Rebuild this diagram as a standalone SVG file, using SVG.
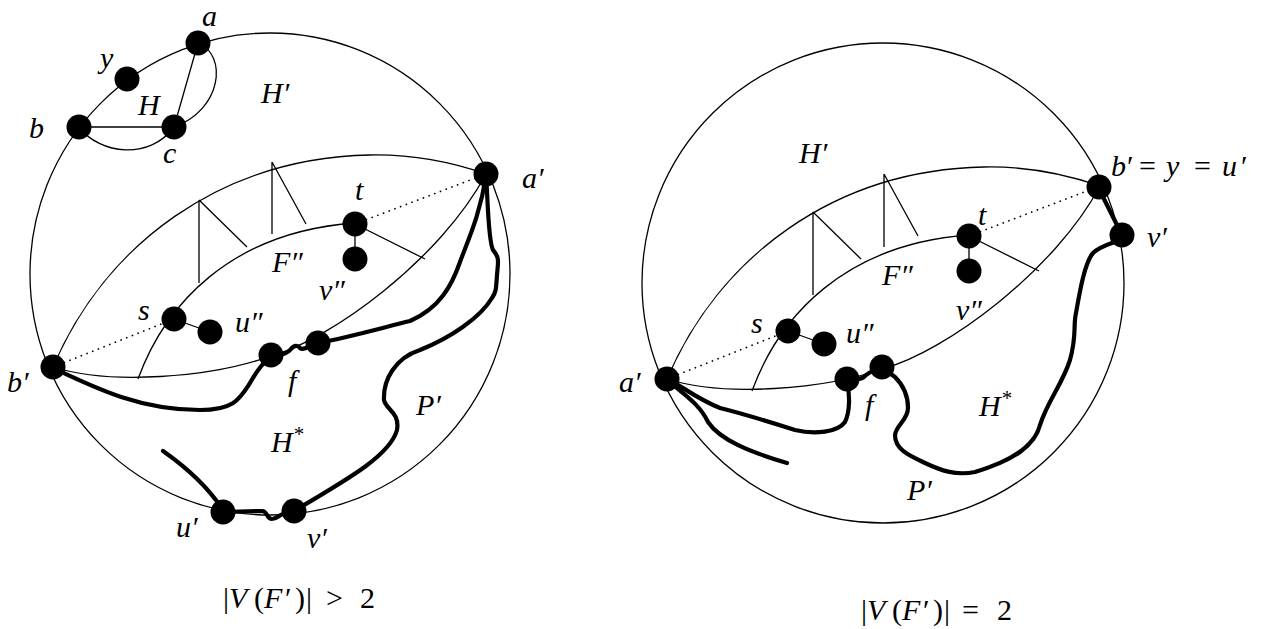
<svg xmlns="http://www.w3.org/2000/svg" width="1279" height="629" viewBox="0 0 1279 629">
<style>
.thin{fill:none;stroke:#000;stroke-width:1.3}
.thick{fill:none;stroke:#000;stroke-width:4.2;stroke-linecap:round;stroke-linejoin:round}
.dot{fill:none;stroke:#000;stroke-width:1.7;stroke-dasharray:0.1 6;stroke-linecap:round}
.node{fill:#000}
text{font-family:"Liberation Serif","Times New Roman",serif;font-size:30px;fill:#000}
.it{font-style:italic}
.rm{font-style:normal}
</style>
<rect width="1279" height="629" fill="#fff"/>

<!-- LEFT DIAGRAM -->
<g id="left-structure">
<ellipse class="thin" cx="270" cy="274" rx="240" ry="241"/>
<path class="thin" d="M53,367 C105,245 220,158 370,155 C420,154 460,165 486,174"/>
<path class="thin" d="M53,367 C110,385 210,378 271,356 C330,340 440,260 486,174"/>
<path class="thin" d="M138,379 C165,305 230,232 355,223"/>
<path class="thin" d="M199,200 L199,283 M199,200 L247,247 M272,162 L272,234 M272,162 L306,224"/>
<path class="thin" d="M355,224 L425,259 M355,224 L355,259"/>
<path class="dot" d="M53,367 L174,319 M355,224 L486,174"/>
<path class="thin" d="M174,319 L210,332"/>
<path class="thin" d="M198,43 L174,127 M198,43 C228,55 222,110 174,127 M79,127 L174,127 M79,127 C100,155 150,160 174,127"/>
</g>
<g id="left-thick-paths">
<path class="thick" d="M53,368 C95,388 140,410 200,410 C235,410 240,398 250,383 C256,372 264,362 271,356"/>
<path class="thick" d="M318,343 C350,337 385,327 410,321 C440,308 452,285 460,262 C468,240 480,215 486,176"/>
<path class="thick" d="M486,176 C488,200 488,240 493,250 C500,258 498,262 497,275 C496,290 496,292 492,298 C480,318 450,338 420,350 C395,358 383,380 384,400 C386,410 400,412 397,430 C390,455 350,478 294,511"/>
<path class="thick" d="M223,512 L262,511 C268,511 266,519 272,519 C278,519 280,512 294,511"/>
<path class="thick" d="M223,510 C210,490 190,470 163,451"/>
<path class="thick" d="M271,355 C284,355 288,353 291,349 C294,345 298,345 300,348 C303,351 308,346 318,343"/>
</g>
<g id="n-a"><circle class="node" cx="198" cy="43" r="12.5"/><text class="it" x="202" y="26">a</text></g>
<g id="n-y"><circle class="node" cx="127" cy="79" r="12.5"/><text class="it" x="100" y="68">y</text></g>
<g id="n-b"><circle class="node" cx="79" cy="127" r="12.5"/><text class="it" x="29" y="138">b</text></g>
<g id="n-c"><circle class="node" cx="174" cy="127" r="12.5"/><text class="it" x="163" y="163">c</text></g>
<g id="n-a1-left"><circle class="node" cx="486" cy="174" r="12.5"/><text class="it" x="522" y="188">a′</text></g>
<g id="n-b1-left"><circle class="node" cx="53" cy="367" r="12.5"/><text class="it" x="7" y="392">b′</text></g>
<g id="n-t-left"><circle class="node" cx="355" cy="224" r="12.5"/><text class="it" x="355" y="200">t</text></g>
<g id="n-t2-left"><circle class="node" cx="355" cy="259" r="12.5"/></g>
<g id="n-s-left"><circle class="node" cx="174" cy="319" r="12.5"/><text class="it" x="138" y="320">s</text></g>
<g id="n-u2-left"><circle class="node" cx="210" cy="332" r="12.5"/><text class="it" x="235" y="332">u″</text></g>
<g id="n-f-left"><circle class="node" cx="271" cy="355" r="12.5"/><text class="it" x="288" y="391">f</text></g>
<g id="n-v2-left"><circle class="node" cx="318" cy="343" r="12.5"/><text class="it" x="319" y="300">v″</text></g>
<g id="n-u1-left"><circle class="node" cx="223" cy="512" r="12.5"/><text class="it" x="176" y="537">u′</text></g>
<g id="n-v1-left"><circle class="node" cx="294" cy="511" r="12.5"/><text class="it" x="307" y="548">v′</text></g>
<g id="left-labels">
<text class="it" x="138" y="115">H</text>
<text class="it" x="261" y="103">H′</text>
<text class="it" x="272" y="272">F″</text>
<text class="it" x="271" y="452">H<tspan class="rm" dx="1" dy="-11" font-size="21">*</tspan></text>
<text class="it" x="416" y="415">P′</text>
<text><tspan class="rm" x="223" y="608">|</tspan><tspan class="it" x="229">V</tspan><tspan class="rm" x="254">(</tspan><tspan class="it" x="264">F</tspan><tspan class="rm" x="285">′</tspan><tspan class="rm" x="295">)</tspan><tspan class="rm" x="306">|</tspan><tspan class="rm" x="326">&gt;</tspan><tspan class="rm" x="360">2</tspan></text>
</g>

<!-- RIGHT DIAGRAM -->
<g id="right-structure">
<ellipse class="thin" cx="883" cy="283" rx="241" ry="240"/>
<g transform="translate(614,12)">
<path class="thin" d="M53,367 C105,245 220,158 370,155 C420,154 460,165 486,174"/>
<path class="thin" d="M53,367 C110,385 210,378 271,356 C330,340 440,260 486,174"/>
<path class="thin" d="M138,379 C165,305 230,232 355,223"/>
<path class="thin" d="M199,200 L199,283 M199,200 L247,247 M270,162 L270,235 M270,162 L304,224"/>
<path class="thin" d="M355,224 L425,259 M355,224 L355,259"/>
<path class="dot" d="M53,367 L174,319 M355,224 L486,174"/>
<path class="thin" d="M174,319 L210,332"/>
</g>
</g>
<g id="right-thick-paths">
<path class="thick" d="M1098,187 L1122,235"/>
<path class="thick" d="M1120,240 C1110,244 1100,246 1093,253 C1085,262 1080,290 1076,313 C1073,325 1077,335 1070,360 C1062,385 1048,400 1040,425 C1035,445 1015,460 975,472 C955,476 940,470 925,463 C910,456 895,450 895,435 C896,425 908,420 908,408 C908,395 903,385 895,377 L884,369"/>
<path class="thick" d="M847,381 C850,395 850,412 845,422 C838,432 815,435 795,430 C770,422 740,413 720,408 C700,400 690,392 670,380"/>
<path class="thick" d="M672,384 C685,395 700,405 708,422 C720,440 750,452 787,463"/>
<path class="thick" d="M847,379 C857,379 860,380 864,377 C868,372 875,370 882,367"/>
</g>
<g id="n-a1-right"><circle class="node" cx="667" cy="379" r="12.5"/><text class="it" x="619" y="392">a′</text></g>
<g id="n-b1-right"><circle class="node" cx="1099" cy="187" r="12.5"/><text><tspan class="it" x="1111" y="176">b</tspan><tspan class="rm" x="1127">′</tspan><tspan class="rm" x="1139">=</tspan><tspan class="it" x="1166">y</tspan><tspan class="rm" x="1194">=</tspan><tspan class="it" x="1222">u</tspan><tspan class="rm" x="1241">′</tspan></text></g>
<g id="n-v1-right"><circle class="node" cx="1122" cy="235" r="12.5"/><text class="it" x="1147" y="247">v′</text></g>
<g id="n-t-right"><circle class="node" cx="969" cy="236" r="12.5"/><text class="it" x="978" y="225">t</text></g>
<g id="n-v2-right"><circle class="node" cx="969" cy="271" r="12.5"/><text class="it" x="956" y="320">v″</text></g>
<g id="n-s-right"><circle class="node" cx="788" cy="331" r="12.5"/><text class="it" x="751" y="333">s</text></g>
<g id="n-u2-right"><circle class="node" cx="824" cy="344" r="12.5"/><text class="it" x="846" y="343">u″</text></g>
<g id="n-f1-right"><circle class="node" cx="847" cy="379" r="12.5"/><text class="it" x="865" y="415">f</text></g>
<g id="n-f2-right"><circle class="node" cx="882" cy="367" r="12.5"/></g>
<g id="right-labels">
<text class="it" x="799" y="163">H′</text>
<text class="it" x="882" y="285">F″</text>
<text class="it" x="979" y="416">H<tspan class="rm" dx="1" dy="-11" font-size="21">*</tspan></text>
<text class="it" x="907" y="500">P′</text>
<text><tspan class="rm" x="861" y="620">|</tspan><tspan class="it" x="867">V</tspan><tspan class="rm" x="892">(</tspan><tspan class="it" x="902">F</tspan><tspan class="rm" x="923">′</tspan><tspan class="rm" x="933">)</tspan><tspan class="rm" x="944">|</tspan><tspan class="rm" x="962">=</tspan><tspan class="rm" x="997">2</tspan></text>
</g>
</svg>
